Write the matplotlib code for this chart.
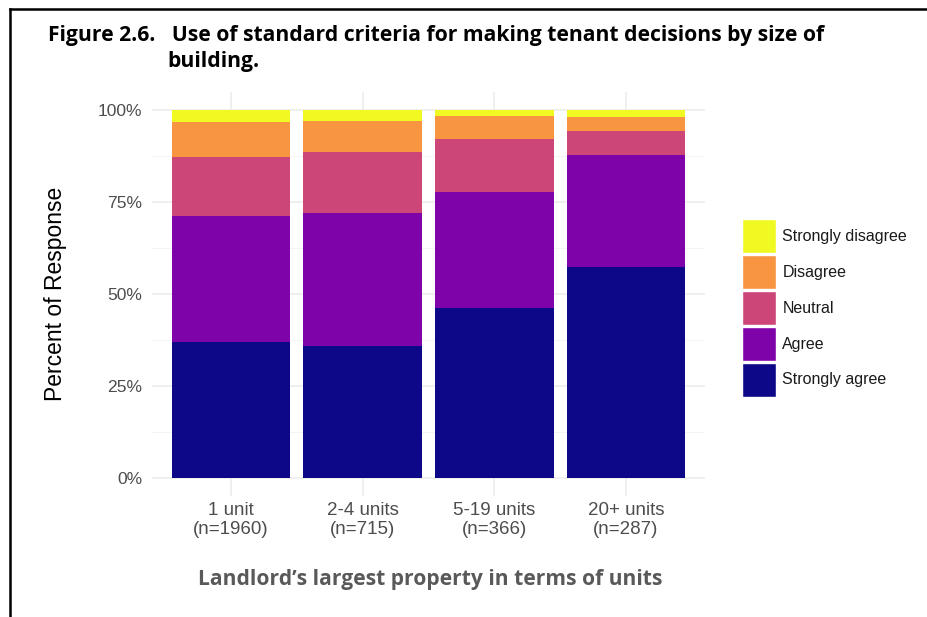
import numpy as np
import matplotlib.pyplot as plt
from matplotlib.patches import Patch
from matplotlib.lines import Line2D

# data (percent of responses)
categories = ['1 unit\n(n=1960)', '2-4 units\n(n=715)', '5-19 units\n(n=366)', '20+ units\n(n=287)']
responses = ['Strongly agree', 'Agree', 'Neutral', 'Disagree', 'Strongly disagree']
strongly_agree = [37.0, 36.0, 46.2, 57.3]
agree = [34.2, 36.0, 31.4, 30.4]
neutral = [16.0, 16.7, 14.4, 6.5]
disagree = [9.6, 8.4, 6.3, 4.0]
strongly_disagree = [3.2, 2.9, 1.7, 1.8]
colors = ['#0D0887', '#7E03A8', '#CC4778', '#F89540', '#F0F921']

series = [strongly_agree, agree, neutral, disagree, strongly_disagree]

plt.rcParams['font.family'] = ['Liberation Sans', 'DejaVu Sans']

fig = plt.figure(figsize=(9.28, 6.17), dpi=100)
ax = fig.add_axes([152 / 928, 1 - 496.4 / 617, 553 / 928, 404.8 / 617])

x = np.arange(1, len(categories) + 1)
bottom = np.zeros(len(categories))
for vals, col in zip(series, colors):
    ax.bar(x, vals, width=0.9, bottom=bottom, color=col, zorder=3)
    bottom += np.array(vals)

ax.set_xlim(0.4, 4.6)
ax.set_ylim(-5, 105)
ax.set_yticks([0, 25, 50, 75, 100])
ax.set_yticklabels(['0%', '25%', '50%', '75%', '100%'])
ax.set_yticks([12.5, 37.5, 62.5, 87.5], minor=True)
ax.set_xticks(x)
ax.set_xticklabels(categories, linespacing=1.12)
ax.tick_params(axis='both', length=0, labelcolor='#4D4D4D')
ax.tick_params(axis='y', labelsize=12.6, pad=7)
ax.tick_params(axis='y', which='minor', length=0)
ax.tick_params(axis='x', labelsize=13.5, pad=4)
ax.grid(True, which='major', color='#EBEBEB', linewidth=1.1, zorder=0)
ax.grid(True, which='minor', axis='y', color='#F3F3F3', linewidth=0.6, zorder=0)
for s in ax.spines.values():
    s.set_visible(False)

ax.set_ylabel('Percent of Response', fontsize=16.5, color='black', labelpad=22)

# legend, top entry first
handles = [Patch(facecolor=c, edgecolor='white') for c in colors[::-1]]
leg = fig.legend(handles, responses[::-1], loc='center left', bbox_to_anchor=(742 / 928, 1 - 308 / 617),
                 frameon=False, fontsize=11.5, handlelength=2.13, handleheight=2.89,
                 labelspacing=0.12, handletextpad=0.4, borderpad=0, borderaxespad=0)
for t in leg.get_texts():
    t.set_color('#1A1A1A')

fig.text(48 / 928, 1 - 35 / 617, 'Figure 2.6.   Use of standard criteria for making tenant decisions by size of',
         fontsize=15.2, fontweight='bold', family='Open Sans', va='center', ha='left')
fig.text(167 / 928, 1 - 62 / 617, 'building.', fontsize=15.2, fontweight='bold', family='Open Sans',
         va='center', ha='left')
fig.text(430 / 928, 1 - 580 / 617, 'Landlord\u2019s largest property in terms of units', fontsize=15.1,
         fontweight='bold', family='Open Sans', color='#595959', va='center', ha='center')

# page border on top and left
fig.add_artist(Line2D([10 / 928, 10 / 928], [0, 1 - 9 / 617], color='black', linewidth=1.8,
                      transform=fig.transFigure))
fig.add_artist(Line2D([10 / 928, 1], [1 - 9 / 617, 1 - 9 / 617], color='black', linewidth=1.8,
                      transform=fig.transFigure))

fig.savefig('out.png', dpi=100)
